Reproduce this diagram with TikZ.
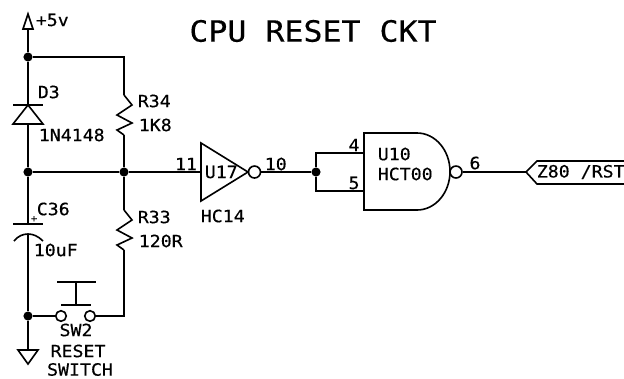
\documentclass[tikz,border=0pt]{standalone}
\usepackage{fontspec}
\setmonofont[FakeStretch=1.08,FakeBold=0.4]{DejaVu Sans Mono}
\usepackage{tikz}
\usetikzlibrary{arrows}
\newcommand\zigpath{% resistor body, 40 units long
  -- ++(8,10) -- ++(-15,10) -- ++(15,8) -- ++(-15,7)
}
\begin{document}
\begin{tikzpicture}[x=0.025cm, y=-0.025cm, line width=1.15pt, line join=miter,
    lbl/.style={font=\ttfamily\fontsize{12}{12}\selectfont, inner sep=0pt, anchor=west},
    pin/.style={font=\ttfamily\fontsize{12}{12}\selectfont, inner sep=0pt},
    dot/.style={circle, fill=black, inner sep=0pt, minimum size=6.5pt},
    bubble/.style={circle, draw, fill=white, inner sep=0pt, minimum size=8.5pt},
    contact/.style={circle, draw, inner sep=0pt, minimum size=7.5pt}]
    \useasboundingbox (0,0) rectangle (624,378);
    \node[font=\ttfamily\fontsize{20.8}{20.8}\selectfont, inner sep=0pt] (title) at (313,31) {CPU RESET CKT};

    \coordinate (vcc) at (28,29);
    \node[dot] (top) at (28,57) {};
    \node[dot] (mid) at (28,172) {};
    \node[dot] (sum) at (124,172) {};
    \node[dot] (low) at (28,316) {};
    \coordinate (gnd) at (28,350);
    \coordinate (tr) at (124,57);
    \coordinate (br) at (124,316);

    % supply and ground
    \draw (vcc) -- (top);
    \draw (vcc) -- ++(-5,0) -- ++(5,-15) -- ++(5,15) -- cycle;
    \draw (low) -- (gnd);
    \draw (gnd) ++(-10,0) -- ++(20,0) -- ++(-10,14) -- cycle;
    \node[lbl] (vlabel) at (35,20) {+5v};

    % diode
    \coordinate (da) at (28,105);
    \coordinate (db) at (28,124);
    \draw (top) -- (da);
    \draw (db) -- (mid);
    \draw (13,105) -- (43,105);
    \draw (da) -- (13,124) -- (43,124) -- cycle;
    \node[lbl] (d3) at (37,92) {D3};
    \node[lbl] (dval) at (38,135) {1N4148};

    % resistors
    \coordinate (r34a) at (124,95);
    \coordinate (r34b) at (124,135);
    \coordinate (r33a) at (124,210);
    \coordinate (r33b) at (124,250);
    \draw (top) -- (tr) -- (r34a);
    \draw (r34a) \zigpath -- (r34b);
    \draw (r34b) -- (sum);
    \draw (sum) -- (r33a);
    \draw (r33a) \zigpath -- (r33b);
    \node[lbl] (r34) at (137,101) {R34};
    \node[lbl] (r34v) at (138,125) {1K8};
    \node[lbl] (r33) at (137,217) {R33};
    \node[lbl] (r33v) at (138,241) {120R};
    \draw (mid) -- (sum);

    % capacitor
    \coordinate (ca) at (28,224);
    \coordinate (cb) at (28,234);
    \draw (mid) -- (ca);
    \draw (13,224) -- (43,224);
    \draw (14,241) .. controls (18,236) and (23,234) .. (cb) .. controls (33,234) and (38,236) .. (43,241);
    \draw (cb) -- (low);
    \node[lbl] (c36) at (36,209) {C36};
    \node[lbl, font=\ttfamily\fontsize{7}{7}\selectfont] (plus) at (30,219) {+};
    \node[lbl] (c36v) at (33,250) {10uF};

    % switch
    \node[contact] (swa) at (61,316) {};
    \node[contact] (swb) at (90,316) {};
    \draw (low) -- (swa);
    \draw (swb) -- (br) -- (r33b);
    \draw (57,282) -- (96,282);
    \draw (76,282) -- (76,305);
    \draw (61,305) -- (91,305);
    \node[pin] (sw2) at (76,330) {SW2};
    \node[pin] (sw2a) at (78,351) {RESET};
    \node[pin] (sw2b) at (80,369.5) {SWITCH};

    % inverter
    \coordinate (ui) at (201,172);
    \draw (201,143) -- (248,172) -- (201,201) -- cycle;
    \node[bubble] (invo) at (254.5,172) {};
    \draw (sum) -- (ui);
    \node[pin] (p11) at (186,164) {11};
    \node[lbl] (u17) at (204,172) {U17};
    \node[lbl] (hc14) at (200,216) {HC14};
    \node[lbl] (p10) at (264,164) {10};

    % nand gate
    \node[dot] (tie) at (316,172) {};
    \coordinate (ga) at (364,153);
    \coordinate (gb) at (364,191);
    \draw (invo) -- (tie);
    \draw (tie) -- (316,153) -- (ga);
    \draw (tie) -- (316,191) -- (gb);
    \draw (364,133) -- (417,133) arc[start angle=-90, end angle=90, x radius=33, y radius=38.5] -- (364,210) -- cycle;
    \node[bubble] (nando) at (456,172) {};
    \node[pin] (p4) at (354,145) {4};
    \node[pin] (p5) at (354,183) {5};
    \node[lbl] (u10) at (377,154) {U10};
    \node[lbl] (hct) at (377,174) {HCT00};
    \node[pin] (p6) at (475,163) {6};

    % output flag
    \coordinate (flag) at (526,172);
    \draw (nando) -- (flag);
    \draw (624,161) -- (537,161) -- (flag) -- (537,184) -- (624,184);
    \node[lbl] (rst) at (536,172) {Z80 /RST};
\end{tikzpicture}
\end{document}
